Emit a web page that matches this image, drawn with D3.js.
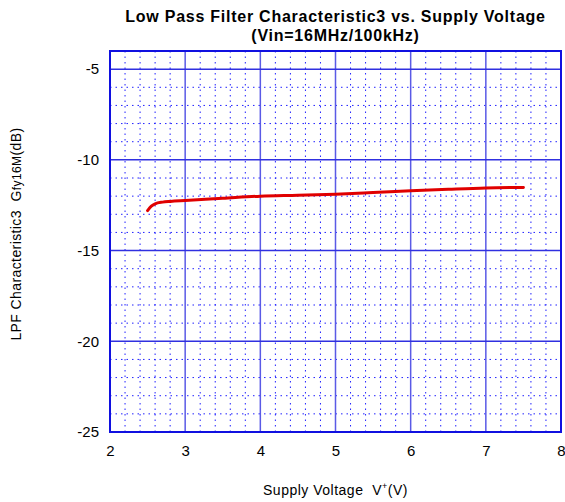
<!DOCTYPE html>
<html><head><meta charset="utf-8">
<script src="https://cdn.jsdelivr.net/npm/d3@7"></script>
<style>body{margin:0;background:#fff}svg{display:block}text{font-family:"Liberation Sans",Arial,sans-serif}</style>
</head><body><svg id="c" width="565" height="502"></svg>
<script>
const voltage = [2.5, 2.55, 2.6, 2.7, 2.8, 3.0, 3.5, 4.0, 4.5, 5.0, 5.5, 6.0, 6.5, 7.0, 7.5];
const gain    = [-12.8, -12.55, -12.42, -12.33, -12.29, -12.24, -12.12, -12.0, -11.95, -11.89, -11.8, -11.7, -11.62, -11.55, -11.52];
const xTicks = [2, 3, 4, 5, 6, 7, 8];
const yTicks = [-5, -10, -15, -20, -25];

const svg = d3.select("#c");
const L = 110, R = 561, T = 51, B = 432;
const x = d3.scaleLinear().domain([2, 8]).range([L, R]);
const y = d3.scaleLinear().domain([-25, -4]).range([B, T]);

const g = svg.append("g");
// minor grid
const xMinor = d3.range(2, 8.001, 0.2).filter(v => Math.abs(v - Math.round(v)) > 1e-6);
const yMinor = d3.range(-25, -4 + 0.001, 1).filter(v => v % 5 !== 0);
g.selectAll(".xm").data(xMinor).join("line")
  .attr("x1", d => x(d)).attr("x2", d => x(d)).attr("y1", T).attr("y2", B)
  .attr("stroke", "#2020ff").attr("stroke-width", 1).attr("stroke-dasharray", "1.5,4");
g.selectAll(".ym").data(yMinor).join("line")
  .attr("x1", L).attr("x2", R).attr("y1", d => y(d)).attr("y2", d => y(d))
  .attr("stroke", "#2020ff").attr("stroke-width", 1).attr("stroke-dasharray", "1.5,4");
// major grid
g.selectAll(".xM").data(xTicks).join("line")
  .attr("x1", d => x(d)).attr("x2", d => x(d)).attr("y1", T).attr("y2", B)
  .attr("stroke", "#5a5ae6").attr("stroke-width", 1.5);
g.selectAll(".yM").data(yTicks).join("line")
  .attr("x1", L).attr("x2", R).attr("y1", d => y(d)).attr("y2", d => y(d))
  .attr("stroke", "#3030e0").attr("stroke-width", 1.5);
// border
g.append("rect").attr("x", L).attr("y", T).attr("width", R - L).attr("height", B - T)
  .attr("fill", "none").attr("stroke", "#1010e0").attr("stroke-width", 2);

const FF = '"Liberation Sans",Arial,sans-serif';
const xa = svg.append("g").attr("transform", `translate(0,${B})`)
  .call(d3.axisBottom(x).tickValues(xTicks).tickSize(0).tickPadding(13).tickFormat(d3.format("d")));
xa.select(".domain").remove();
xa.selectAll("text").attr("font-size", 15).attr("fill", "#000").style("font-family", FF);
const ya = svg.append("g").attr("transform", `translate(${L},0)`)
  .call(d3.axisLeft(y).tickValues(yTicks).tickSize(0).tickPadding(11).tickFormat(d => d3.format("d")(d).replace("−", "-")));
ya.select(".domain").remove();
ya.selectAll("text").attr("font-size", 15).attr("fill", "#000").style("font-family", FF);

// line
svg.append("path").datum(voltage.map((v, i) => [v, gain[i]]))
  .attr("d", d3.line().x(d => x(d[0])).y(d => y(d[1])).curve(d3.curveMonotoneX))
  .attr("fill", "none").attr("stroke", "#e00000").attr("stroke-width", 3).attr("stroke-linecap", "round");

// title
const cx = (L + R) / 2;
svg.append("text").attr("x", cx).attr("y", 22).attr("text-anchor", "middle")
  .attr("font-size", 16).attr("font-weight", "bold").attr("letter-spacing", 0.75)
  .text("Low Pass Filter Characteristic3 vs. Supply Voltage");
svg.append("text").attr("x", cx).attr("y", 41).attr("text-anchor", "middle")
  .attr("font-size", 16).attr("font-weight", "bold").attr("letter-spacing", 0.75)
  .text("(Vin=16MHz/100kHz)");

// x title
const xt = svg.append("text").attr("x", cx).attr("y", 495).attr("text-anchor", "middle")
  .attr("font-size", 14).attr("letter-spacing", 0.5);
xt.append("tspan").text("Supply Voltage\u00a0\u00a0V");
xt.append("tspan").attr("font-size", 9).attr("dy", -6).text("+");
xt.append("tspan").attr("dy", 6).text("(V)");

// y title
const yt = svg.append("text").attr("transform", "translate(21,234) rotate(-90)").attr("text-anchor", "middle")
  .attr("font-size", 14).attr("letter-spacing", 0.4);
yt.append("tspan").text("LPF Characteristic3\u00a0\u00a0G");
yt.append("tspan").attr("font-size", 12).text("fy16M");
yt.append("tspan").text("(dB)");
</script></body></html>
